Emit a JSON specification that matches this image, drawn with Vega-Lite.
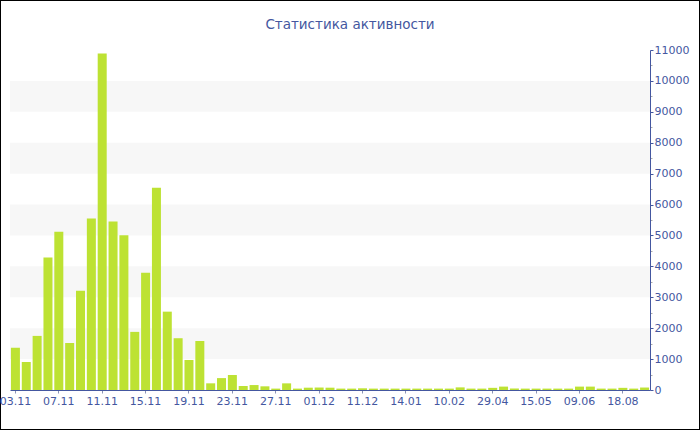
{
  "$schema": "https://vega.github.io/schema/vega-lite/v6.json",
  "width": 700,
  "height": 430,
  "autosize": "none",
  "padding": 0,
  "background": "white",
  "config": {
    "view": {"stroke": "black", "strokeWidth": 2, "fill": "white"},
    "font": "DejaVu Sans"
  },
  "title": {
    "text": "Статистика активности",
    "font": "DejaVu Sans",
    "fontSize": 13.5,
    "fontWeight": "normal",
    "color": "#4457a0",
    "anchor": "middle",
    "frame": "group",
    "offset": -42,
    "baseline": "alphabetic"
  },
  "datasets": {
    "activity": [
      {"date": "03.11", "count": 1370},
      {"date": "04.11", "count": 905},
      {"date": "05.11", "count": 1750},
      {"date": "06.11", "count": 4290},
      {"date": "07.11", "count": 5120},
      {"date": "08.11", "count": 1520},
      {"date": "09.11", "count": 3210},
      {"date": "10.11", "count": 5550},
      {"date": "11.11", "count": 10890},
      {"date": "12.11", "count": 5450},
      {"date": "13.11", "count": 5010},
      {"date": "14.11", "count": 1880},
      {"date": "15.11", "count": 3790},
      {"date": "16.11", "count": 6545},
      {"date": "17.11", "count": 2535},
      {"date": "18.11", "count": 1675},
      {"date": "19.11", "count": 970},
      {"date": "20.11", "count": 1585},
      {"date": "21.11", "count": 216},
      {"date": "22.11", "count": 385},
      {"date": "23.11", "count": 485},
      {"date": "24.11", "count": 130},
      {"date": "25.11", "count": 160},
      {"date": "26.11", "count": 119},
      {"date": "27.11", "count": 45},
      {"date": "28.11", "count": 215},
      {"date": "29.11", "count": 45},
      {"date": "30.11", "count": 75},
      {"date": "01.12", "count": 80},
      {"date": "03.12", "count": 75},
      {"date": "05.12", "count": 45},
      {"date": "08.12", "count": 45},
      {"date": "11.12", "count": 55},
      {"date": "16.12", "count": 45},
      {"date": "22.12", "count": 45},
      {"date": "29.12", "count": 45},
      {"date": "14.01", "count": 45},
      {"date": "20.01", "count": 45},
      {"date": "27.01", "count": 45},
      {"date": "03.02", "count": 45},
      {"date": "10.02", "count": 45},
      {"date": "24.02", "count": 85},
      {"date": "15.03", "count": 45},
      {"date": "07.04", "count": 45},
      {"date": "29.04", "count": 70},
      {"date": "03.05", "count": 110},
      {"date": "07.05", "count": 45},
      {"date": "11.05", "count": 45},
      {"date": "15.05", "count": 45},
      {"date": "20.05", "count": 45},
      {"date": "27.05", "count": 45},
      {"date": "02.06", "count": 45},
      {"date": "09.06", "count": 110},
      {"date": "18.06", "count": 110},
      {"date": "05.07", "count": 45},
      {"date": "29.07", "count": 45},
      {"date": "18.08", "count": 70},
      {"date": "02.09", "count": 45},
      {"date": "21.09", "count": 80}
    ],
    "bands": [
      {"from": 1000, "to": 2000},
      {"from": 3000, "to": 4000},
      {"from": 5000, "to": 6000},
      {"from": 7000, "to": 8000},
      {"from": 9000, "to": 10000}
    ]
  },
  "layer": [
    {
      "data": {"name": "bands"},
      "mark": {"type": "rect", "color": "#f7f7f7"},
      "encoding": {
        "x": {"datum": 0, "type": "quantitative", "scale": {"domain": [0, 1], "range": [10, 650]}, "axis": null},
        "x2": {"datum": 1},
        "y": {"field": "from", "type": "quantitative", "scale": {"domain": [0, 11000], "range": [390, 50], "nice": false}, "axis": null},
        "y2": {"field": "to"}
      }
    },
    {
      "data": {"name": "activity"},
      "mark": {"type": "bar", "color": "#bde233"},
      "encoding": {
        "x": {
          "field": "date",
          "type": "ordinal",
          "sort": null,
          "scale": {"range": [10, 650], "paddingInner": 0.17, "paddingOuter": 0.085},
          "axis": {
            "orient": "bottom",
            "offset": -40,
            "values": ["03.11", "07.11", "11.11", "15.11", "19.11", "23.11", "27.11", "01.12", "11.12", "14.01", "10.02", "29.04", "15.05", "09.06", "18.08"],
            "title": null,
            "grid": false,
            "domainColor": "#4457a0",
            "tickColor": "#8a93b5",
            "tickSize": 3,
            "labelPadding": 2,
            "labelColor": "#4457a0",
            "labelFont": "DejaVu Sans",
            "labelFontSize": 11,
            "labelAngle": 0,
            "labelOverlap": false,
            "labelBound": false,
            "labelFlush": false
          }
        },
        "y": {
          "field": "count",
          "type": "quantitative",
          "scale": {"domain": [0, 11000], "range": [390, 50], "nice": false},
          "axis": {
            "orient": "right",
            "offset": -50,
            "title": null,
            "grid": false,
            "format": "d",
            "values": [0, 500, 1000, 1500, 2000, 2500, 3000, 3500, 4000, 4500, 5000, 5500, 6000, 6500, 7000, 7500, 8000, 8500, 9000, 9500, 10000, 10500, 11000],
            "labelExpr": "datum.value % 1000 ? '' : datum.label",
            "tickSize": {"expr": "datum.value % 1000 ? 2 : 3"},
            "tickColor": {"expr": "datum.value % 1000 ? '#aaaaaa' : '#4457a0'"},
            "domainColor": "#4457a0",
            "labelPadding": 1,
            "labelColor": "#4457a0",
            "labelFont": "DejaVu Sans",
            "labelFontSize": 11,
            "labelOverlap": false,
            "labelBound": false,
            "labelFlush": false
          }
        }
      }
    }
  ],
  "resolve": {"scale": {"x": "independent", "y": "independent"}}
}
